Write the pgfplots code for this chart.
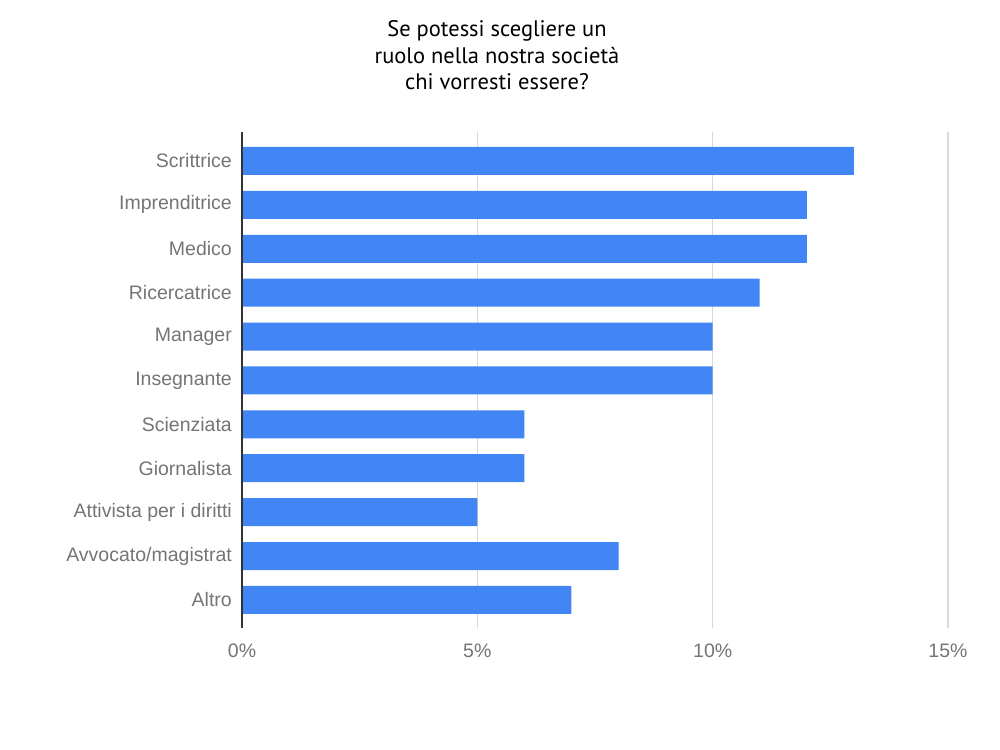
\documentclass[border=0pt]{standalone}
\usepackage{pgfplots}
\pgfplotsset{compat=1.18}
\usepackage{fontspec}
\setmainfont{Liberation Sans}
\newfontfamily\titlefont{PT Sans}
\definecolor{barblue}{HTML}{4285F4}
\definecolor{lbl}{HTML}{757575}
\definecolor{gridc}{HTML}{D9D9D9}
\definecolor{zeroc}{HTML}{333333}
\begin{document}
\begin{tikzpicture}[x=1pt,y=1pt]
\path[use as bounding box, fill=white] (0,0) rectangle (1000,749);
\node[anchor=base, align=center, font={\titlefont\fontsize{22.5}{26.5}\selectfont}] at (497,659) {Se potessi scegliere un\\ruolo nella nostra società\\chi vorresti essere?};
\begin{axis}[
  at={(242pt,121pt)}, anchor=south west,
  scale only axis, width=706pt, height=496pt,
  xmin=0, xmax=15, ymin=-0.66, ymax=10.64, y dir=reverse,
  xbar, bar width=28pt,
  axis line style={draw=none},
  major tick length=0pt,
  xtick={0,5,10,15},
  xticklabel={\pgfmathprintnumber[assume math mode=true]{\tick}\%},
  ytick={0,...,10},
  yticklabels={Scrittrice,Imprenditrice,Medico,Ricercatrice,Manager,Insegnante,Scienziata,Giornalista,Attivista per i diritti,Avvocato/magistrat,Altro},
  xmajorgrids, grid style={gridc, line width=1.2pt},
  yticklabel style={font=\fontsize{19.5}{21}\selectfont, text=lbl, inner sep=0pt, xshift=-10pt},
  xticklabel style={font=\fontsize{19.5}{21}\selectfont, text=lbl, inner sep=0pt, yshift=-16pt},
  clip=false,
]
\addplot[fill=barblue, draw=none] coordinates {
(13,0) (12,1) (12,2) (11,3) (10,4) (10,5) (6,6) (6,7) (5,8) (8,9) (7,10)};
\draw[zeroc, line width=1.5pt] (axis cs:0,-0.66) -- (axis cs:0,10.64);
\end{axis}
\end{tikzpicture}
\end{document}
